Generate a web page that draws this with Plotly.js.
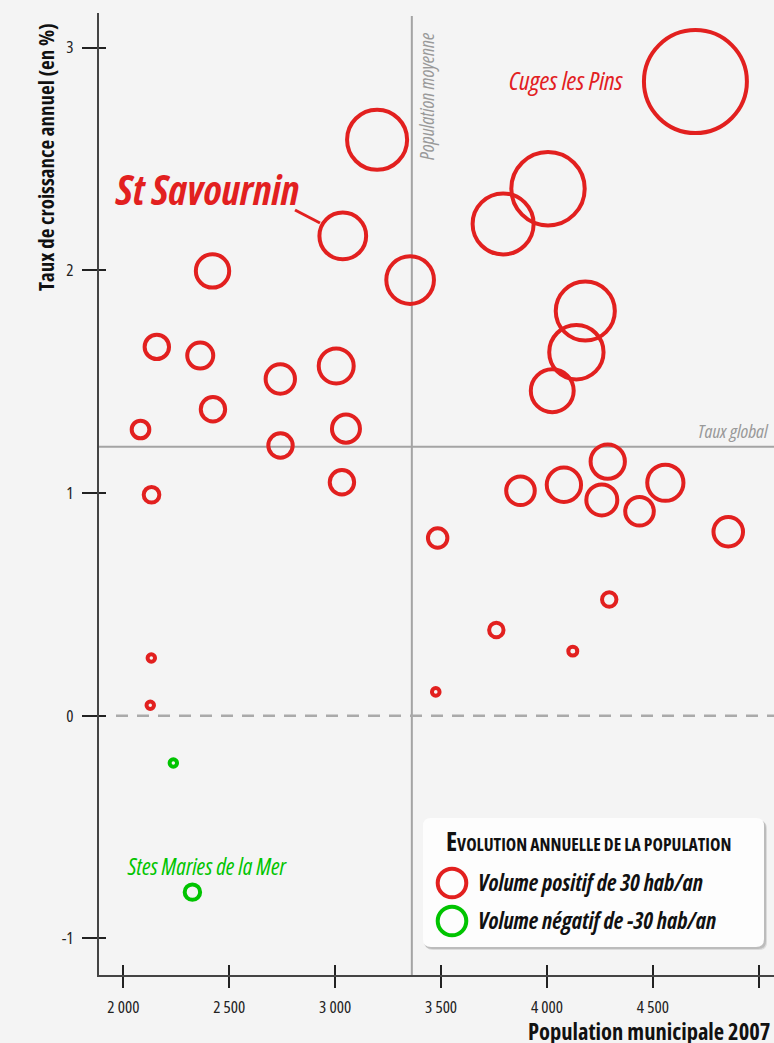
<!DOCTYPE html>
<html>
<head>
<meta charset="utf-8">
<script src="https://cdn.plot.ly/plotly-3.0.1.min.js"></script>
<style>
html,body{margin:0;padding:0;background:#f4f4f4;}
#chart{width:774px;height:1043px;}
text, tspan{font-stretch:75% !important;}
</style>
</head>
<body>
<div id="chart"></div>
<script>
// Population municipale 2007 (habitants)
const population = [4701, 3198, 3036, 2421, 3354, 3793, 4005, 4181, 4139, 4025, 4287, 3875, 4080, 4259, 4437, 4559, 4856, 3484, 4294, 3761, 4122, 3475, 2158, 2363, 2741, 3005, 2423, 2081, 2742, 3051, 3032, 2133, 2132, 2127, 2236, 2326];
// Taux de croissance annuel (en %)
const tauxCroissance = [2.847, 2.586, 2.154, 1.997, 1.956, 2.208, 2.366, 1.817, 1.632, 1.459, 1.141, 1.010, 1.037, 0.969, 0.918, 1.046, 0.826, 0.798, 0.522, 0.385, 0.290, 0.107, 1.656, 1.617, 1.512, 1.570, 1.376, 1.285, 1.213, 1.289, 1.048, 0.992, 0.259, 0.047, -0.212, -0.792];
// Evolution annuelle de la population (hab/an)
const volumeAnnuel = [108, 63, 49, 35, 50, 64, 77, 62, 57, 45, 36, 30, 36, 32.5, 30, 38, 31, 20.4, 15.1, 15.1, 9.4, 8, 25.6, 27.3, 30.8, 36.7, 25.6, 18.5, 25.6, 29.4, 25.6, 16.4, 7.8, 7.8, -7.8, -16.2];
const communes = ["Cuges les Pins", "", "St Savournin", "", "", "", "", "", "", "", "", "", "", "", "", "", "", "", "", "", "", "", "", "", "", "", "", "", "", "", "", "", "", "", "", "Stes Maries de la Mer"];

const populationMoyenne = 3362;
const tauxGlobal = 1.208;
const legendeVolume = 30;

const xTickVals = [2000, 2500, 3000, 3500, 4000, 4500, 5000];
const xTickText = ["2 000", "2 500", "3 000", "3 500", "4 000", "4 500", "5 000"];
const yTickVals = [-1, 0, 1, 2, 3];
const yTickText = ["-1", "0", "1", "2", "3"];

const RED = '#e2201f', GREEN = '#00c400', GREY = '#a4a4a4';
const FONT = "'Open Sans', 'Roboto', sans-serif";
const SIZEREF = 30 / 28.6;
const LW = 4;

// plot geometry (pixels)
const L = 99, T = 13, W = 675, H = 962;
const px = v => (v - L) / W;
const py = v => 1 - (v - T) / H;

function pick(cond) {
  const idx = volumeAnnuel.map((v, i) => i).filter(i => cond(volumeAnnuel[i]));
  return {
    x: idx.map(i => population[i]),
    y: idx.map(i => tauxCroissance[i]),
    s: idx.map(i => Math.abs(volumeAnnuel[i])),
    t: idx.map(i => communes[i])
  };
}
const pos = pick(v => v > 0), neg = pick(v => v < 0);

const traces = [
  {type: 'scatter', mode: 'markers', x: pos.x, y: pos.y, text: pos.t, name: 'Volume positif',
   marker: {size: pos.s, sizemode: 'diameter', sizeref: SIZEREF, opacity: 1, color: 'rgba(0,0,0,0)', line: {color: RED, width: LW}},
   showlegend: false, hoverinfo: 'x+y+text'},
  {type: 'scatter', mode: 'markers', x: neg.x, y: neg.y, text: neg.t, name: 'Volume négatif',
   marker: {size: neg.s, sizemode: 'diameter', sizeref: SIZEREF, opacity: 1, color: 'rgba(0,0,0,0)', line: {color: GREEN, width: LW}},
   showlegend: false, hoverinfo: 'x+y+text'},
  {type: 'scatter', mode: 'markers', x: [], y: [], xaxis: 'x2', yaxis: 'y2', showlegend: false, hoverinfo: 'skip'}
];

const xRange = [1885, 5072], yRange = [-1.164, 3.155];

function roundRect(x0, y0, x1, y1, r) {
  const X = v => px(v), Y = v => py(v);
  return `M ${X(x0 + r)},${Y(y0)} L ${X(x1 - r)},${Y(y0)} Q ${X(x1)},${Y(y0)} ${X(x1)},${Y(y0 + r)} ` +
    `L ${X(x1)},${Y(y1 - r)} Q ${X(x1)},${Y(y1)} ${X(x1 - r)},${Y(y1)} L ${X(x0 + r)},${Y(y1)} ` +
    `Q ${X(x0)},${Y(y1)} ${X(x0)},${Y(y1 - r)} L ${X(x0)},${Y(y0 + r)} Q ${X(x0)},${Y(y0)} ${X(x0 + r)},${Y(y0)} Z`;
}

const legR = legendeVolume / SIZEREF / 2;

const shapes = [
  {type: 'line', xref: 'x', yref: 'paper', x0: populationMoyenne, x1: populationMoyenne, y0: 0, y1: py(16), line: {color: GREY, width: 2}, layer: 'below'},
  {type: 'line', xref: 'paper', yref: 'y', x0: 0, x1: 1, y0: tauxGlobal, y1: tauxGlobal, line: {color: GREY, width: 2}, layer: 'below'},
  {type: 'line', xref: 'paper', yref: 'y', x0: px(116), x1: 1, y0: 0, y1: 0, line: {color: '#aaaaaa', width: 2.5, dash: '12px,9px'}, layer: 'below'},
  // leader line St Savournin
  {type: 'line', xref: 'paper', yref: 'paper', x0: px(295), y0: py(210), x1: px(320), y1: py(223), line: {color: RED, width: 3}},
  // legend box shadow + box
  {type: 'path', xref: 'paper', yref: 'paper', path: roundRect(425, 821, 767, 950, 8), fillcolor: 'rgba(0,0,0,0.10)', line: {width: 0}},
  {type: 'path', xref: 'paper', yref: 'paper', path: roundRect(424, 820, 766, 949, 8), fillcolor: 'rgba(0,0,0,0.14)', line: {width: 0}},
  {type: 'path', xref: 'paper', yref: 'paper', path: roundRect(423, 818, 764, 947, 8), fillcolor: '#fdfdfd', line: {width: 0}},
  {type: 'circle', xref: 'paper', yref: 'paper', xsizemode: 'pixel', ysizemode: 'pixel', xanchor: px(452), yanchor: py(883),
   x0: -legR, x1: legR, y0: -legR, y1: legR, line: {color: RED, width: 4}},
  {type: 'circle', xref: 'paper', yref: 'paper', xsizemode: 'pixel', ysizemode: 'pixel', xanchor: px(452), yanchor: py(921),
   x0: -legR, x1: legR, y0: -legR, y1: legR, line: {color: GREEN, width: 4}}
];

const ann = (o) => Object.assign({xref: 'paper', yref: 'paper', showarrow: false}, o);
const annotations = [
  ann({x: px(113), y: py(189), xanchor: 'left', yanchor: 'middle', text: 'St Savournin',
       font: {family: FONT, size: 41, color: RED, weight: 'bold', style: 'italic'}}),
  ann({x: px(626), y: py(80), xanchor: 'right', yanchor: 'middle', text: 'Cuges les Pins',
       font: {family: FONT, size: 26, color: RED, style: 'italic'}}),
  ann({x: px(125), y: py(866), xanchor: 'left', yanchor: 'middle', text: 'Stes Maries de la Mer',
       font: {family: FONT, size: 23, color: GREEN, style: 'italic'}}),
  ann({x: px(426), y: py(97), xanchor: 'center', yanchor: 'middle', textangle: -90, text: 'Population moyenne',
       font: {family: FONT, size: 19.5, color: '#999999', style: 'italic'}}),
  ann({x: px(771), y: py(431), xanchor: 'right', yanchor: 'middle', text: 'Taux global',
       font: {family: FONT, size: 19, color: '#999999', style: 'italic'}}),
  ann({x: px(46), y: py(157), xanchor: 'center', yanchor: 'middle', textangle: -90, text: 'Taux de croissance annuel (en %)',
       font: {family: FONT, size: 21, color: '#111111', weight: 'bold'}}),
  ann({x: px(526), y: py(1031), xanchor: 'left', yanchor: 'middle', text: 'Population municipale 2007',
       font: {family: FONT, size: 22.5, color: '#111111', weight: 'bold'}}),
  ann({x: px(588), y: py(841), xanchor: 'center', yanchor: 'middle',
       text: "<span style='font-size:26px'>E</span>VOLUTION ANNUELLE DE LA POPULATION",
       font: {family: FONT, size: 17.6, color: '#111111', weight: 'bold'}}),
  ann({x: px(476), y: py(882), xanchor: 'left', yanchor: 'middle', text: 'Volume positif de ' + legendeVolume + ' hab/an',
       font: {family: FONT, size: 22.5, color: '#111111', weight: 'bold', style: 'italic'}}),
  ann({x: px(476), y: py(920), xanchor: 'left', yanchor: 'middle', text: 'Volume négatif de -' + legendeVolume + ' hab/an',
       font: {family: FONT, size: 22.5, color: '#111111', weight: 'bold', style: 'italic'}})
];

const tickFont = {family: FONT, size: 17, color: '#222222'};

const layout = {
  width: 774, height: 1043,
  margin: {l: L, r: 774 - L - W, t: T, b: 1043 - T - H, pad: 0},
  paper_bgcolor: '#f4f4f4', plot_bgcolor: '#f4f4f4',
  showlegend: false,
  xaxis: {range: xRange, tickvals: xTickVals, ticktext: xTickText, ticks: 'outside', ticklen: 11, tickwidth: 2, tickcolor: '#222',
          showline: true, linecolor: '#444', linewidth: 2, showgrid: false, zeroline: false, tickfont: tickFont, ticklabelstandoff: 5, fixedrange: true},
  yaxis: {range: yRange, tickvals: yTickVals, ticktext: yTickText, ticks: 'outside', ticklen: 15, tickwidth: 2, tickcolor: '#222',
          showline: true, linecolor: '#444', linewidth: 2, showgrid: false, zeroline: false, tickfont: tickFont, ticklabelstandoff: 5, fixedrange: true},
  xaxis2: {overlaying: 'x', range: xRange, tickvals: xTickVals, ticks: 'inside', ticklen: 10, tickwidth: 2, tickcolor: '#222',
           showticklabels: false, showline: false, showgrid: false, zeroline: false, side: 'bottom', fixedrange: true},
  yaxis2: {overlaying: 'y', range: yRange, tickvals: yTickVals, ticks: 'inside', ticklen: 7, tickwidth: 2, tickcolor: '#222',
           showticklabels: false, showline: false, showgrid: false, zeroline: false, side: 'left', fixedrange: true},
  shapes: shapes,
  annotations: annotations,
  font: {family: FONT}
};

Plotly.newPlot('chart', traces, layout, {displayModeBar: false, staticPlot: true});
</script>
</body>
</html>
